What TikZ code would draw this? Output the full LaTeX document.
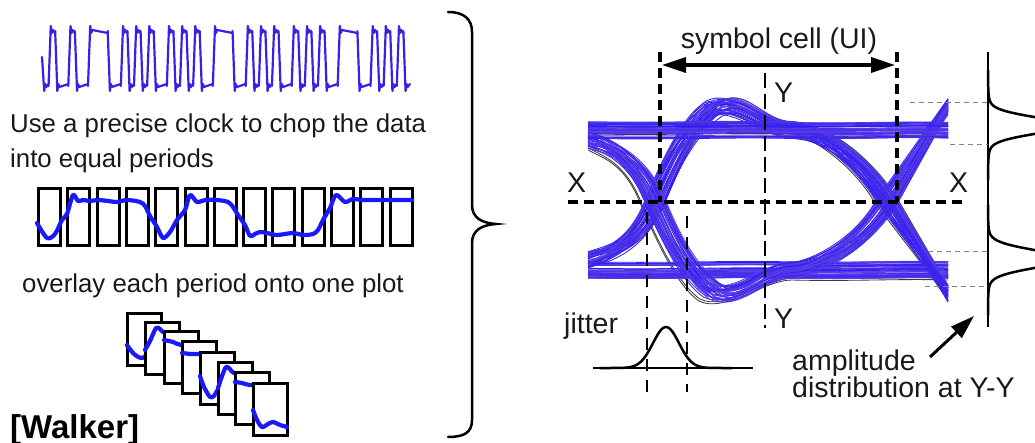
\documentclass[tikz,border=0pt]{standalone}
\usepackage{fontspec}
\setmainfont{Liberation Sans}
\usetikzlibrary{arrows.meta}
\definecolor{waveblue}{RGB}{60,30,235}
\definecolor{boxblue}{RGB}{25,25,252}
\definecolor{eyeA}{RGB}{45,25,240}
\definecolor{eyeB}{RGB}{95,65,230}
\definecolor{txt}{RGB}{25,25,25}
\definecolor{guidegray}{RGB}{130,130,130}
\definecolor{darktrace}{RGB}{60,60,60}
% one trace of the eye diagram: #1 #2 #3 bits, #4 dy, #5 jitter left, #6 jitter right, #7 colour
\newcommand\eyetrace[7]{%
  \pgfmathsetmacro\eya{270-140*#1}%
  \pgfmathsetmacro\eyb{270-140*#2}%
  \pgfmathsetmacro\eyc{270-140*#3}%
  \pgfmathsetmacro\eyD{\eyb-\eya}%
  \pgfmathsetmacro\eyE{\eyc-\eyb}%
  \edef\edy{#4}\edef\eda{#5}\edef\edb{#6}%
  \ifnum#1=#2\relax
    \draw[trace,color=#7] (588,{\eyb+(\edy)}) .. controls (680,{\eyb+(\edy)+1.5}) and (720,{\eyb+(\edy)-1.5}) .. (792,{\eyb+(\edy)});
  \else
    \draw[trace,color=#7] (588,{\eya+0.07*\eyD+(\edy)})
      .. controls ({612+(\eda)},{\eya+0.12*\eyD+(\edy)}) and ({638+(\eda)},{202-0.3*\eyD}) .. ({655+(\eda)},{202+0.3*(\edy)})
      .. controls ({672+(\eda)},{202+0.3*\eyD}) and ({692+(\eda)},{\eyb+0.05*\eyD+(\edy)}) .. ({713+(\eda)},{\eyb+0.15*\eyD+(\edy)})
      .. controls ({738+(\eda)},{\eyb+0.24*\eyD+(\edy)}) and (764,{\eyb+(\edy)}) .. (792,{\eyb+(\edy)});
  \fi
  \ifnum#2=#3\relax
    \draw[trace,color=#7] (792,{\eyb+(\edy)}) .. controls (850,{\eyb+(\edy)+1.5}) and (900,{\eyb+(\edy)-1.5}) .. (948,{\eyb+(\edy)});
  \else
    \draw[trace,color=#7] (792,{\eyb+(\edy)})
      .. controls ({825+(\edb)},{\eyb+(\edy)+0.02*\eyE}) and ({867+(\edb)},{202-0.25*\eyE}) .. ({887+(\edb)},{202+0.3*(\edy)})
      -- (948,{\eyc+0.17*\eyE+(\edy)});
  \fi
}
\begin{document}
\begin{tikzpicture}[x=1pt,y=-1pt,
  wave/.style={waveblue,line width=2.2pt,line join=round,line cap=round},
  chop/.style={draw=black,line width=3pt},
  bcurve/.style={boxblue,line width=4.2pt,line cap=round,line join=round},
  trace/.style={line width=0.85pt},
  thickdash/.style={line width=3.5pt,dash pattern=on 10pt off 6pt},
  ydash/.style={line width=2pt,dash pattern=on 15pt off 6pt},
  thindash/.style={line width=1.4pt,dash pattern=on 12pt off 9pt},
  guide/.style={guidegray,line width=1pt,dash pattern=on 5pt off 4pt},
  lt/.style={font=\fontsize{25.8}{30}\selectfont,text=txt,inner sep=0pt,anchor=base west},
  rt/.style={font=\fontsize{28.5}{33}\selectfont,text=txt,inner sep=0pt,anchor=base west},
  dist/.style={line width=2.5pt,black},
  bighead/.style={{Triangle[length=24pt,width=15pt]}-{Triangle[length=24pt,width=15pt]}},
  onehead/.style={-{Triangle[length=24pt,width=15pt]}},
]
\useasboundingbox (0,0) rectangle (1035,443);
\clip (0,0) rectangle (1035,443);

% ---------- top data waveform ----------
\def\wx{42}
\foreach \r [count=\i] in {1,1,2,1,2,3, 2,1,1,1,1,1,2,1,1,1, 1,1,2,3, 2,1,1,1,1,1,2,1,1,1,1,1, 2,3, 2,1,1,1,1,1,1}{
  \pgfmathsetmacro\xb{\wx+\r*6.57}
  \ifodd\i\relax
    \def\lv{86}\def\os{5}\def\pv{31}\def\dr{-2}
  \else
    \def\lv{31}\def\os{-5}\def\pv{86}\def\dr{2}
  \fi
  \ifnum\i=1\relax \def\pv{57}\fi
  \draw[wave] (\wx,\pv) -- ({\wx+2.2},{\lv+\os}) -- ({\wx+3.2},{\lv-0.4*\os}) -- ({\wx+4.3},{\lv+0.2*\os}) -- (\xb,{\lv+\dr});
  \xdef\wx{\xb}
}

% ---------- texts left ----------
\node[lt] (t1) at (10,133) {Use a precise clock to chop the data};
\node[lt] (t2) at (10,168) {into equal periods};
\node[lt] (t3) at (22,293) {overlay each period onto one plot};
\node[lt,font=\fontsize{33}{38}\selectfont\bfseries,text=black] (walker) at (10,438) {[Walker]};

% ---------- chopped periods ----------
\foreach \j in {0,...,12}
  \draw[chop] ({38.5+29.3*\j},188.5) rectangle ({60.5+29.3*\j},245.5);
\draw[bcurve] plot[smooth,tension=0.5] coordinates {(37,223) (47,238) (55,234) (62,220) (67,214) (73,195) (78,201) (83,200) (90,201) (98,200) (108,201) (117,202) (127,200) (140,202) (145,206) (150,216) (157,227) (163,238) (170,232) (177,220) (185,210) (190,195) (197,202) (205,200) (217,200) (228,202) (233,207) (238,215) (245,225) (250,236) (255,234) (260,232) (267,233) (277,235) (293,233) (303,235) (313,234) (318,230) (323,220) (330,208) (336,195) (345,202) (353,199) (363,200) (383,200) (390,200) (412,200)};

% ---------- overlaid periods ----------
\filldraw[chop,fill=white] (127.5,313.5) rectangle ++(34,52);
\draw[bcurve] plot[smooth] coordinates {(127,345) (134,354) (142,358) (150,352) (162,342)};
\filldraw[chop,fill=white] (145.5,322.5) rectangle ++(34,52);
\draw[bcurve] plot[smooth] coordinates {(145,350) (150,341) (156,328) (160,329) (163,332) (170,333) (180,333)};
\filldraw[chop,fill=white] (164.5,331.5) rectangle ++(34,52);
\draw[bcurve] plot[smooth] coordinates {(164,340) (173,342) (181,345) (198,345)};
\filldraw[chop,fill=white] (182.5,341.5) rectangle ++(34,52);
\draw[bcurve] plot[smooth] coordinates {(182,353) (191,354) (199,354) (216,354)};
\filldraw[chop,fill=white] (200.5,352.5) rectangle ++(34,52);
\draw[bcurve] plot[smooth] coordinates {(200,376) (204,387) (210,397) (214,396) (217,391) (227,381) (234,379)};
\filldraw[chop,fill=white] (218.5,362.5) rectangle ++(34,52);
\draw[bcurve] plot[smooth] coordinates {(218,388) (222,376) (226,367) (230,369) (234,373) (252,375)};
\filldraw[chop,fill=white] (235.5,372.5) rectangle ++(34,52);
\draw[bcurve] plot[smooth] coordinates {(235,382) (242,383) (250,385) (269,386)};
\filldraw[chop,fill=white] (253.5,383.5) rectangle ++(34,52);
\draw[bcurve] plot[smooth] coordinates {(253,410) (257,420) (262,427) (268,424) (273,422) (280,425) (287,427)};

% ---------- brace ----------
\draw[line width=2.5pt,line cap=round] (448,12) .. controls (465,12) and (472,20) .. (472,32) -- (472,205)
  .. controls (472,218) and (482,223) .. (496,224) .. controls (482,225) and (472,230) .. (472,243)
  -- (472,420) .. controls (472,432) and (465,437) .. (448,437);

% ---------- eye diagram traces ----------
\eyetrace{1}{0}{1}{8}{-13}{-10}{darktrace}
\eyetrace{1}{0}{0}{10}{-14}{6}{darktrace}
\eyetrace{0}{1}{0}{-8}{10}{11}{darktrace}
\eyetrace{0}{1}{1}{6}{-9}{-11}{darktrace}
\eyetrace{1}{1}{0}{4}{0}{-12}{darktrace}
\pgfmathsetseed{12}
\foreach \pa/\pb/\pc in {0/0/0,0/0/1,0/1/0,0/1/1,1/0/0,1/0/1,1/1/0,1/1/1}{
  \foreach \k in {1,...,22}{
    \pgfmathsetmacro\dyr{8.5*rand}
    \pgfmathsetmacro\dar{11*rand}
    \pgfmathsetmacro\dbr{11*rand}
    \pgfmathtruncatemacro\mix{50+50*rand}
    \eyetrace{\pa}{\pb}{\pc}{\dyr}{\dar}{\dbr}{eyeA!\mix!eyeB}
  }
}

% ---------- eye dashed lines ----------
\coordinate (ulTop) at (660,52);  \coordinate (ulBot) at (660,202);
\coordinate (urTop) at (897,52);  \coordinate (urBot) at (897,202);
\coordinate (xL) at (568,202);    \coordinate (xR) at (963,202);
\coordinate (yTop) at (765,73);   \coordinate (yBot) at (765,328);
\coordinate (j1T) at (647,212);   \coordinate (j1B) at (647,392);
\coordinate (j2T) at (687,216);   \coordinate (j2B) at (687,392);
\draw[thickdash] (ulTop) -- (ulBot);
\draw[thickdash] (urTop) -- (urBot);
\draw[thickdash] (xL) -- (xR);
\draw[ydash] (yTop) -- (yBot);
\draw[thindash] (j1T) -- (j1B);
\draw[thindash] (j2T) -- (j2B);

% symbol cell arrow
\coordinate (uiL) at (662,65); \coordinate (uiR) at (895,65);
\draw[line width=3.5pt,bighead] (uiL) -- (uiR);
\node[rt,anchor=base] (ui) at (779,49) {symbol cell (UI)};

% labels X, Y
\node[rt] (yt) at (774,103) {Y};
\node[rt] (yb) at (774,328) {Y};
\node[rt] (xl) at (567,193) {X};
\node[rt] (xr) at (949,193) {X};

% ---------- jitter distribution ----------
\node[rt] (jit) at (564,333) {jitter};
\coordinate (jbL) at (593,368); \coordinate (jbR) at (753,368);
\draw[dist] (jbL) -- (jbR);
\draw[dist] plot[domain=600:732,samples=90] (\x,{368-41*exp(-((\x-666)^2)/338)});

% ---------- amplitude distribution ----------
\coordinate (aTop) at (988,52); \coordinate (aBot) at (988,327);
\draw[dist] (aTop) -- (aBot);
\draw[dist] plot[domain=70:180,samples=120] ({988+75*exp(-((\x-125.5)^2)/128)+4*exp(-((\x-125.5)^2)/512)},\x);
\draw[dist] plot[domain=205:315,samples=120] ({988+75*exp(-((\x-259)^2)/145)+4*exp(-((\x-259)^2)/512)},\x);
\coordinate (g1) at (910,103); \coordinate (g2) at (950,145);
\coordinate (g3) at (928,252); \coordinate (g4) at (925,287);
\draw[guide] (g1) -- (988,103);
\draw[guide] (g2) -- (988,145);
\draw[guide] (g3) -- (988,252);
\draw[guide] (g4) -- (988,287);

\coordinate (arS) at (930,357); \coordinate (arE) at (974,316);
\draw[line width=3pt,onehead] (arS) -- (arE);
\node[rt] (amp1) at (792,370) {amplitude};
\node[rt] (amp2) at (792,397) {distribution at Y-Y};
\end{tikzpicture}
\end{document}
